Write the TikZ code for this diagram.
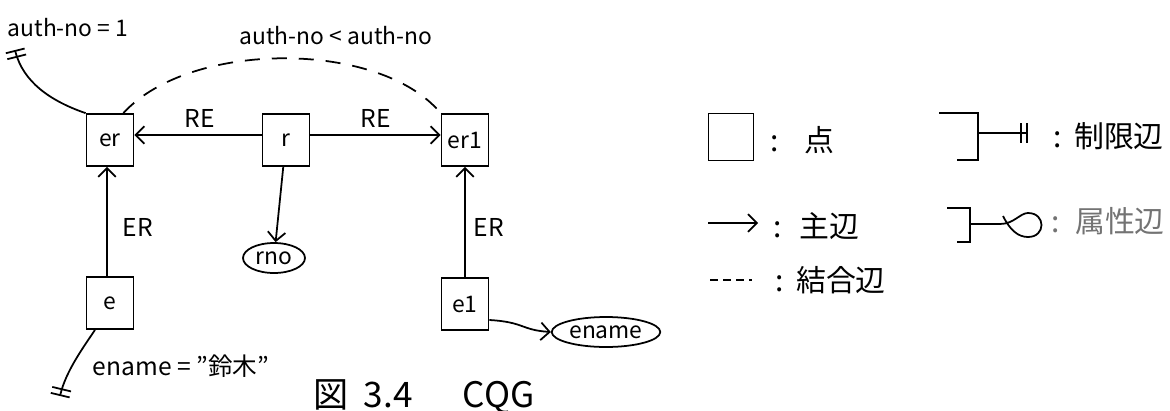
\documentclass[tikz,border=0pt]{standalone}
\usepackage{fontspec}
\setmainfont{Noto Sans CJK JP}
\usetikzlibrary{arrows.meta, positioning, shapes.geometric}

\begin{document}
\begin{tikzpicture}[
  x=0.02cm, y=-0.02cm,
  line width=1pt,
  every node/.style={font=\fontsize{13}{15}\selectfont},
  vertex/.style={draw, minimum width=0.94cm, minimum height=1.04cm, inner sep=0pt},
  attrnode/.style={draw, ellipse, inner sep=1pt, minimum height=0.6cm},
  lbl/.style={font=\fontsize{14}{16}\selectfont},
  cond/.style={font=\fontsize{13}{15}\selectfont},
  jp/.style={font=\fontsize{17}{20}\selectfont, inner sep=0pt, anchor=west},
  restrict/.style={-{Bar[width=11pt,sep=2.5pt]Bar[width=11pt]}},
  joinedge/.style={dash pattern=on 0.3cm off 0.24cm},
  >={Straight Barb[length=5pt,width=10pt]}
]
\useasboundingbox (0,0) rectangle (1170,410);

% ── Vertices ──
\node[vertex] (er)  at (110,140) {er};
\node[vertex] (r)   at (286,140) {r};
\node[vertex] (er1) at (465,140) {er1};
\node[vertex] (e)   at (110,303) {e};
\node[vertex] (e1)  at (465,304) {e1};

% ── Attributes ──
\node[attrnode, minimum width=1.24cm] (rno)   at (274,258) {rno};
\node[attrnode, minimum width=1.7cm]  (ename) at (606,332) {ename};

% ── Main edges ──
\draw[->] ([yshift=0.1cm]r.west) -- ([yshift=0.1cm]er.east);
\draw[->] ([yshift=0.1cm]r.east) -- ([yshift=0.1cm]er1.west);
\draw[->] ([xshift=-0.06cm]e.north) -- ([xshift=-0.06cm]er.south);
\draw[->] (e1) -- (er1);
\node[lbl] (re)  at (200,118) {RE};
\node[lbl] (re1) at (376,118) {RE};
\node[lbl] (ere)  at (138,227) {ER};
\node[lbl] (ere1) at (489,227) {ER};

% ── Attribute edges ──
\draw[->] (r) -- (rno);
\draw[->] ([yshift=-0.32cm]e1.east) .. controls +(35,2) and +(-30,-2) .. (ename.west);

% ── Join edge ──
\draw[joinedge] ([xshift=-0.22cm]er.north east) .. controls (190,40) and (380,40) .. (er1.north west);
\node[cond] (joincond) at (336,36) {auth-no < auth-no};

% ── Restriction edges ──
\coordinate (ertip) at (15,50);
\draw[restrict] (er.north west) .. controls +(-35,-12) and +(8,32) .. (ertip);
\node[cond] (ercond) at (68,28) {auth-no = 1};

\coordinate (etip) at (60,396);
\draw[restrict] ([xshift=-0.3cm]e.south) .. controls +(-12,18) and +(6,-25) .. (etip);
\node[lbl] (econd) at (181,366) {ename = "鈴木"};

% ── Caption ──
\node[font=\fontsize{20}{24}\selectfont, anchor=west, inner sep=0pt] (caption)
  at (313,397) {図\hspace{0.3cm}3.4\hspace{1cm}CQG};

% ── Legend ──
\node[vertex, minimum width=0.9cm, minimum height=0.94cm] (lgvertex) at (731,137) {};
\node[jp] (lgvertextxt) at (770,140) {:\hspace{0.5cm}点};

\coordinate (lgmainA) at (708,223);
\coordinate (lgmainB) at (758,223);
\draw[->] (lgmainA) -- (lgmainB);
\node[jp] (lgmaintxt) at (773,226) {:\hspace{0.34cm}主辺};

\coordinate (lgjoinA) at (710,280);
\coordinate (lgjoinB) at (752,280);
\draw[dash pattern=on 0.16cm off 0.1cm] (lgjoinA) -- (lgjoinB);
\node[jp] (lgjointxt) at (775,280) {:\hspace{0.24cm}結合辺};

\draw (939,113) -- (978,113) -- (978,160) -- (957,160);
\coordinate (lgrestA) at (978,133);
\coordinate (lgrestB) at (1028,133);
\draw[restrict] (lgrestA) -- (lgrestB);
\node[jp] (lgresttxt) at (1053,136) {:\hspace{0.24cm}制限辺};

\draw (947,208) -- (970,208) -- (970,242) -- (957,242);
\draw (970,224) -- (1000,224) .. controls (1014,224) and (1020,213) .. (1028,213)
  .. controls (1046,213) and (1046,237) .. (1028,237)
  .. controls (1018,237) and (1010,230) .. (1003,216);
\node[jp, text=black!55] (lgattrtxt) at (1051,221) {:\hspace{0.3cm}属性辺};

\end{tikzpicture}
\end{document}
